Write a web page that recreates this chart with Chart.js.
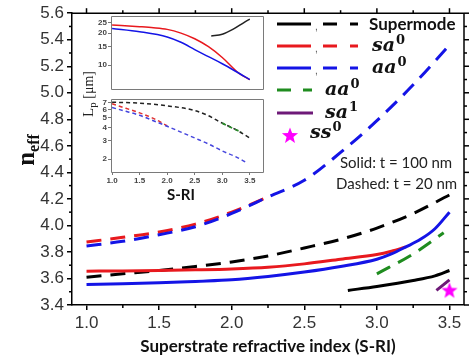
<!DOCTYPE html>
<html><head><meta charset="utf-8">
<script src="https://cdn.jsdelivr.net/npm/chart.js@4.4.1/dist/chart.umd.min.js"></script>
<style>
html,body{margin:0;padding:0;background:#fff;}
#wrap{position:relative;width:474px;height:360px;overflow:hidden;}
canvas{position:absolute;}
#main{left:0;top:0;}
#insTop{left:92px;top:10px;}
#insBot{left:92px;top:93px;}
</style></head><body>
<div id="wrap">
<canvas id="main" width="474" height="360" style="width:474px;height:360px"></canvas>
<canvas id="insTop" width="176" height="85" style="width:176px;height:85px"></canvas>
<canvas id="insBot" width="176" height="111" style="width:176px;height:111px"></canvas>
</div>
<script>
// ---------- main chart data ----------
const xTicks = [1.0, 1.5, 2.0, 2.5, 3.0, 3.5];
const yTicks = [3.4, 3.6, 3.8, 4.0, 4.2, 4.4, 4.6, 4.8, 5.0, 5.2, 5.4, 5.6];

const sriAaDash  = [1.0, 1.25, 1.5, 1.75, 2.0, 2.25, 2.5, 2.75, 3.0, 3.25, 3.5];
const neffAaDash = [3.845, 3.88, 3.93, 3.99, 4.09, 4.215, 4.34, 4.55, 4.79, 5.06, 5.36];
const sriSaDash  = [1.0, 1.25, 1.5, 1.75, 2.0, 2.25];
const neffSaDash = [3.875, 3.91, 3.95, 4.01, 4.10, 4.215];
const sriSupDash  = [1.0, 1.25, 1.5, 1.75, 2.0, 2.25, 2.5, 2.75, 3.0, 3.25, 3.5];
const neffSupDash = [3.61, 3.635, 3.66, 3.69, 3.725, 3.77, 3.83, 3.895, 3.98, 4.09, 4.23];
const sriSaSolid  = [1.0, 1.25, 1.5, 1.75, 2.0, 2.25, 2.5, 2.75, 3.0, 3.1, 3.2];
const neffSaSolid = [3.655, 3.657, 3.66, 3.665, 3.672, 3.685, 3.71, 3.745, 3.78, 3.805, 3.838];
const sriAaSolid  = [1.0, 1.25, 1.5, 1.75, 2.0, 2.25, 2.5, 2.75, 3.0, 3.1, 3.2, 3.3, 3.4, 3.5];
const neffAaSolid = [3.555, 3.56, 3.567, 3.578, 3.59, 3.615, 3.648, 3.69, 3.745, 3.785, 3.838, 3.895, 3.975, 4.10];
const sriAaGreen  = [3.0, 3.25, 3.46];
const neffAaGreen = [3.635, 3.785, 3.945];
const sriSupSolid  = [2.8, 3.0, 3.25, 3.4, 3.5];
const neffSupSolid = [3.51, 3.54, 3.585, 3.62, 3.66];
const sriSa1  = [3.41, 3.5];
const neffSa1 = [3.51, 3.59];
const sriSs0  = [3.5];
const neffSs0 = [3.51];

// ---------- inset data ----------
const insXTicks = [1.0, 1.5, 2.0, 2.5, 3.0, 3.5];
const insTopTicks = [10, 15, 20, 25];
const insBotTicks = [2, 3, 4, 5, 6, 7];
const insSriSa  = [1.0, 1.5, 1.75, 2.0, 2.25, 2.5, 2.75, 3.0, 3.3, 3.5];
const insLpSa   = [23.8, 23.0, 22.5, 21.7, 20.0, 17.7, 14.9, 11.8, 8.4, 7.3];
const insSriAa  = [1.0, 1.5, 2.0, 2.25, 2.5, 2.75, 3.0, 3.25, 3.5];
const insLpAa   = [22.1, 20.6, 18.4, 16.4, 14.0, 12.0, 10.3, 8.7, 7.3];
const insSriSup = [2.8, 3.0, 3.2, 3.4, 3.5];
const insLpSup  = [18.8, 19.5, 21.8, 25.3, 27.1];
const insSriSupD = [1.0, 1.5, 2.0, 2.5, 2.75, 3.0, 3.25, 3.5];
const insLpSupD  = [7.1, 6.95, 6.55, 5.9, 5.25, 4.45, 3.85, 3.2];
const insSriSaD  = [1.0, 1.25, 1.5, 1.75, 2.0];
const insLpSaD   = [6.85, 6.2, 5.6, 4.95, 4.2];
const insSriAaD  = [1.0, 1.25, 1.5, 1.75, 2.0, 2.25, 2.5, 2.75, 3.0, 3.25, 3.45];
const insLpAaD   = [6.3, 5.8, 5.3, 4.7, 4.15, 3.65, 3.2, 2.8, 2.4, 2.1, 1.84];
const insSriGrD  = [3.0, 3.2, 3.35];
const insLpGrD   = [4.45, 3.95, 3.65];

const BLACK = '#000000', RED = '#e8191e', BLUE = '#1414e6', GREEN = '#1f8c1f', PURPLE = '#6e1a78', MAGENTA = '#ff00ff';

function pts(xs, ys) { return xs.map((x, i) => ({x: x, y: ys[i]})); }

function drawStar(ctx, cx, cy, R, r, color) {
  ctx.beginPath();
  for (let i = 0; i < 10; i++) {
    const rad = i % 2 === 0 ? R : r;
    const a = -Math.PI / 2 + i * Math.PI / 5;
    const px = cx + rad * Math.cos(a), py = cy + rad * Math.sin(a);
    if (i === 0) ctx.moveTo(px, py); else ctx.lineTo(px, py);
  }
  ctx.closePath();
  ctx.fillStyle = color;
  ctx.fill();
}
const starImg = document.createElement('canvas');
starImg.width = 18; starImg.height = 18;
drawStar(starImg.getContext('2d'), 9, 9.5, 8.5, 3.6, MAGENTA);

function lineDs(label, xs, ys, color, dash, order, width) {
  return {label, data: pts(xs, ys), borderColor: color, backgroundColor: color,
    borderWidth: width || 3, borderDash: dash || [], pointRadius: 0, fill: false,
    cubicInterpolationMode: 'monotone', order: order};
}

const DASH = [15, 9];
const mainDatasets = [
  lineDs('aa0 solid', sriAaSolid, neffAaSolid, BLUE, null, 1),
  lineDs('sa0 solid', sriSaSolid, neffSaSolid, RED, null, 2),
  lineDs('aa0 dashed', sriAaDash, neffAaDash, BLUE, DASH, 3),
  lineDs('sa0 dashed', sriSaDash, neffSaDash, RED, DASH, 4),
  lineDs('Supermode dashed', sriSupDash, neffSupDash, BLACK, DASH, 5),
  lineDs('Supermode solid', sriSupSolid, neffSupSolid, BLACK, null, 5),
  lineDs('aa0 green', sriAaGreen, neffAaGreen, GREEN, DASH, 5),
  lineDs('sa1', sriSa1, neffSa1, PURPLE, null, 4),
  {label: 'ss0', data: pts(sriSs0, neffSs0), showLine: false, pointStyle: starImg, pointRadius: 9, order: 0}
];

const mainDeco = {
  id: 'mainDeco',
  afterDraw(chart) {
    const ctx = chart.ctx, a = chart.chartArea, xs = chart.scales.x, ys = chart.scales.y;
    ctx.save();
    ctx.strokeStyle = '#000'; ctx.lineWidth = 1.5; ctx.setLineDash([]);
    function ln(x1, y1, x2, y2) { ctx.beginPath(); ctx.moveTo(x1, y1); ctx.lineTo(x2, y2); ctx.stroke(); }
    ln(a.left, a.top, a.right, a.top); ln(a.right, a.top, a.right, a.bottom);
    for (let v = 1.0; v <= 3.5001; v += 0.25) {
      const px = xs.getPixelForValue(v);
      const major = Math.abs(v * 2 - Math.round(v * 2)) < 1e-6;
      const L = major ? 5 : 3;
      if (!major) ln(px, a.bottom, px, a.bottom + L);
      ln(px, a.top, px, a.top - L);
    }
    for (let k = 0; k <= 22; k++) {
      const v = 3.4 + k * 0.1;
      const py = ys.getPixelForValue(v);
      const major = k % 2 === 0;
      const L = major ? 5 : 3;
      if (!major) ln(a.left, py, a.left - L, py);
      ln(a.right, py, a.right + L, py);
    }
    // y title n_eff
    ctx.save();
    ctx.translate(30, 150); ctx.rotate(-Math.PI / 2);
    ctx.fillStyle = '#111';
    ctx.font = 'bold 25px "Liberation Serif"';
    const wn = ctx.measureText('n').width;
    ctx.font = 'bold 16px "Liberation Serif"';
    const we = ctx.measureText('eff').width;
    const x0 = -(wn + we) / 2;
    ctx.textBaseline = 'alphabetic'; ctx.textAlign = 'left';
    ctx.font = 'bold 25px "Liberation Serif"';
    ctx.fillText('n', x0, 4);
    ctx.font = 'bold 16px "Liberation Serif"';
    ctx.fillText('eff', x0 + wn, 9);
    ctx.restore();
    // inset y title L_p [μm]
    ctx.save();
    ctx.translate(93, 94); ctx.rotate(-Math.PI / 2);
    ctx.fillStyle = '#222';
    ctx.font = '15px "Liberation Serif"';
    const wL = ctx.measureText('L').width;
    ctx.font = '11px "Liberation Serif"';
    const wp = ctx.measureText('p').width;
    ctx.font = '14px "Liberation Serif"';
    const wr = ctx.measureText(' [μm]').width;
    let lx = -(wL + wp + wr) / 2;
    ctx.textBaseline = 'alphabetic'; ctx.textAlign = 'left';
    ctx.font = '15px "Liberation Serif"'; ctx.fillText('L', lx, 0); lx += wL;
    ctx.font = '11px "Liberation Serif"'; ctx.fillText('p', lx, 3); lx += wp;
    ctx.font = '14px "Liberation Serif"'; ctx.fillText(' [μm]', lx, 0);
    ctx.restore();
    // legend
    function seg(x1, x2, y, color, dash) {
      ctx.setLineDash(dash || []); ctx.strokeStyle = color; ctx.lineWidth = 3;
      ctx.beginPath(); ctx.moveTo(x1, y); ctx.lineTo(x2, y); ctx.stroke(); ctx.setLineDash([]);
    }
    function comma(x, y) { ctx.fillStyle = '#555'; ctx.font = '10px "Liberation Sans"'; ctx.textBaseline = 'alphabetic'; ctx.fillText(',', x, y + 6); }
    function mathLabel(x, y, base, sup) {
      ctx.fillStyle = '#111'; ctx.textBaseline = 'alphabetic'; ctx.textAlign = 'left';
      ctx.font = 'italic bold 19px "DejaVu Serif"';
      ctx.fillText(base, x, y + 5);
      const w = ctx.measureText(base).width;
      ctx.font = 'bold 13px "DejaVu Serif"';
      ctx.fillText(sup, x + w + 1, y - 2);
    }
    const rows = [24, 46, 68];
    const cols = [BLACK, RED, BLUE];
    for (let i = 0; i < 3; i++) {
      seg(277, 311, rows[i], cols[i]);
      comma(315, rows[i]);
      seg(323, 358, rows[i], cols[i], [14, 13]);
    }
    ctx.fillStyle = '#111'; ctx.font = 'bold 17px Lato'; ctx.textBaseline = 'middle'; ctx.textAlign = 'left';
    ctx.fillText('Supermode', 369, 25);
    mathLabel(372, 46, 'sa', '0');
    mathLabel(372, 68, 'aa', '0');
    seg(277, 312, 90, GREEN, [14, 12]);
    mathLabel(325, 90, 'aa', '0');
    seg(277, 313, 113, PURPLE);
    mathLabel(325, 113, 'sa', '1');
    drawStar(ctx, 290, 136, 8.5, 3.6, MAGENTA);
    mathLabel(310, 133, 'ss', '0');
    ctx.fillStyle = '#222'; ctx.font = '15px Lato'; ctx.textBaseline = 'middle';
    ctx.fillText('Solid: t = 100 nm', 340, 163);
    ctx.fillText('Dashed: t = 20 nm', 336, 184);
    ctx.restore();
  }
};

new Chart(document.getElementById('main'), {
  type: 'line',
  data: {datasets: mainDatasets},
  options: {
    responsive: false, animation: false, events: [],
    layout: {padding: {top: 12, right: 7, left: 0, bottom: 0}},
    plugins: {legend: {display: false}, tooltip: {enabled: false}},
    scales: {
      x: {type: 'linear', min: 0.9, max: 3.6,
        afterBuildTicks: s => { s.ticks = xTicks.map(v => ({value: v})); },
        afterFit: s => { s.height = 55; },
        ticks: {callback: v => Number(v).toFixed(1), font: {family: 'Liberation Sans', size: 17}, color: '#333', padding: 3, maxRotation: 0, autoSkip: false},
        grid: {drawOnChartArea: false, drawTicks: true, tickLength: 5, color: '#000', lineWidth: 1.5},
        border: {display: true, color: '#000', width: 1.5},
        title: {display: true, text: 'Superstrate refractive index (S-RI)', font: {family: 'Lato', size: 17, weight: 'bold'}, color: '#111', padding: {top: 0, bottom: 3}}
      },
      y: {type: 'linear', min: 3.4, max: 5.6,
        afterBuildTicks: s => { s.ticks = yTicks.map(v => ({value: v})); },
        afterFit: s => { s.width = 72; },
        ticks: {callback: v => Number(v).toFixed(1), font: {family: 'Liberation Sans', size: 17}, color: '#333', padding: 3, autoSkip: false},
        grid: {drawOnChartArea: false, drawTicks: true, tickLength: 5, color: '#000', lineWidth: 1.5},
        border: {display: true, color: '#000', width: 1.5}
      }
    }
  },
  plugins: [mainDeco]
});

// ---------- inset charts ----------
const insetFrame = {
  id: 'insetFrame',
  afterDraw(chart) {
    const c = chart.ctx, a = chart.chartArea;
    const l = Math.round(a.left) + 0.5, r = Math.round(a.right) + 0.5, t = Math.round(a.top) + 0.5, b = Math.round(a.bottom) + 0.5;
    c.save(); c.setLineDash([]); c.strokeStyle = '#7a7a7a'; c.lineWidth = 1;
    c.beginPath();
    c.moveTo(l, t); c.lineTo(r, t); c.lineTo(r, b); c.lineTo(l, b); c.closePath();
    c.stroke();
    c.restore();
  }
};
const sriLabel = {
  id: 'sriLabel',
  afterDraw(chart) {
    const c = chart.ctx;
    c.save(); c.fillStyle = '#111'; c.font = 'bold 15px Lato'; c.textAlign = 'center'; c.textBaseline = 'middle';
    c.fillText('S-RI', 89, 102); c.restore();
  }
};
function insetOpts(yMin, yMax, yTickVals, padding, showX) {
  const tickFont = {family: 'Liberation Sans', size: 8, weight: 'bold'};
  const xOpts = {type: 'linear', min: 0.98, max: 3.74, display: showX,
    afterBuildTicks: s => { s.ticks = insXTicks.map(v => ({value: v})); },
    ticks: {callback: v => Number(v).toFixed(1), font: tickFont, color: '#444', padding: 1, maxRotation: 0, autoSkip: false},
    grid: {drawOnChartArea: false, tickLength: 3, color: '#777'}, border: {display: false}};
  if (showX) xOpts.afterFit = s => { s.height = 32; };
  return {
    responsive: false, animation: false, events: [],
    layout: {padding: padding},
    plugins: {legend: {display: false}, tooltip: {enabled: false}},
    scales: {
      x: xOpts,
      y: {type: 'logarithmic', min: yMin, max: yMax,
        afterBuildTicks: s => { s.ticks = yTickVals.map(v => ({value: v})); },
        afterFit: s => { s.width = 19; },
        ticks: {callback: v => String(v), font: tickFont, color: '#444', padding: 1, autoSkip: false},
        grid: {drawOnChartArea: false, tickLength: 3, color: '#777'}, border: {display: false}}
    }
  };
}
const ID = [4, 3];
new Chart(document.getElementById('insTop'), {
  type: 'line',
  data: {datasets: [
    lineDs('aa0', insSriAa, insLpAa, BLUE, null, 1, 1.5),
    lineDs('sa0', insSriSa, insLpSa, RED, null, 2, 1.5),
    lineDs('sup', insSriSup, insLpSup, '#222', null, 3, 1.5)
  ]},
  options: insetOpts(5.93, 29, insTopTicks, {top: 6, right: 5, left: 0, bottom: 1}, false),
  plugins: [insetFrame]
});
new Chart(document.getElementById('insBot'), {
  type: 'line',
  data: {datasets: [
    lineDs('aa0d', insSriAaD, insLpAaD, '#4444dd', ID, 1, 1.5),
    lineDs('sa0d', insSriSaD, insLpSaD, '#e03030', ID, 2, 1.5),
    lineDs('grd', insSriGrD, insLpGrD, '#2a8a2a', ID, 0, 1.8),
    lineDs('supd', insSriSupD, insLpSupD, '#222', ID, 3, 1.5)
  ]},
  options: insetOpts(1.5, 7.66, insBotTicks, {top: 1, right: 5, left: 0, bottom: 0}, true),
  plugins: [insetFrame, sriLabel]
});
</script>
</body></html>
